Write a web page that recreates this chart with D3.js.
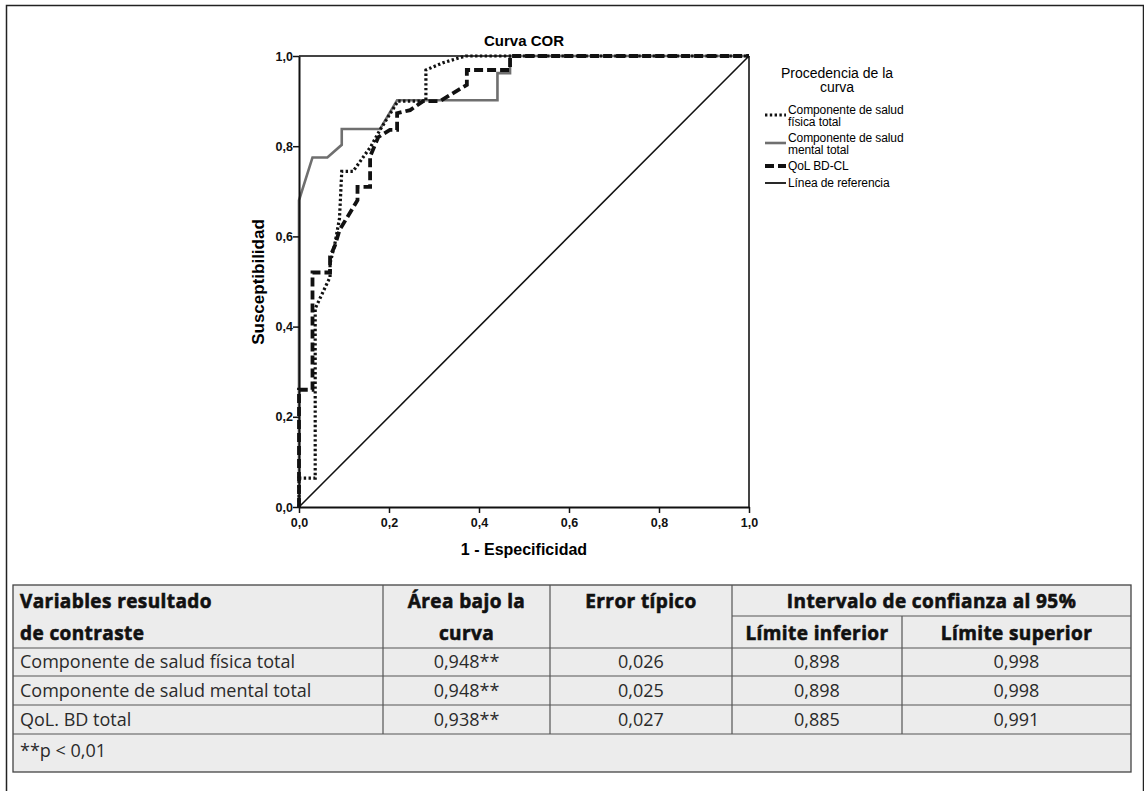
<!DOCTYPE html>
<html>
<head>
<meta charset="utf-8">
<script src="https://cdn.jsdelivr.net/npm/d3@7"></script>
<style>
  body { margin: 0; background: #fff; }
  svg { display: block; }
</style>
</head>
<body>
<div id="chart"></div>
<script>
// ROC curves, points as [1 - especificidad, susceptibilidad]
const curveFisica = [[0,0],[0,0.064],[0.036,0.064],[0.036,0.44],[0.069,0.51],[0.069,0.54],[0.08,0.585],
  [0.09,0.64],[0.095,0.744],[0.12,0.744],[0.16,0.80],[0.18,0.836],[0.22,0.90],[0.282,0.90],
  [0.282,0.969],[0.32,0.985],[0.37,1],[1,1]];
const curveMental = [[0,0],[0,0.68],[0.03,0.775],[0.063,0.775],[0.095,0.803],[0.095,0.838],[0.18,0.838],
  [0.218,0.902],[0.441,0.902],[0.441,0.962],[0.469,0.962],[0.469,1],[1,1]];
const curveQol = [[0,0],[0,0.26],[0.03,0.26],[0.03,0.52],[0.069,0.52],[0.069,0.555],[0.08,0.58],
  [0.09,0.614],[0.13,0.68],[0.13,0.71],[0.158,0.71],[0.158,0.777],[0.176,0.82],[0.202,0.836],
  [0.218,0.836],[0.218,0.873],[0.247,0.88],[0.276,0.90],[0.313,0.90],[0.373,0.936],[0.373,0.969],
  [0.469,0.969],[0.469,1],[1,1]];
const curveRef = [[0,0],[1,1]];
const ticks = [0, 0.2, 0.4, 0.6, 0.8, 1.0];

const legendItems = [
  { lines: ["Componente de salud", "física total"], key: "fisica" },
  { lines: ["Componente de salud", "mental total"], key: "mental" },
  { lines: ["QoL BD-CL"], key: "qol" },
  { lines: ["Línea de referencia"], key: "ref" }
];

// table values
const tableVars = ["Componente de salud física total", "Componente de salud mental total", "QoL. BD total"];
const tableArea = ["0,948**", "0,948**", "0,938**"];
const tableError = ["0,026", "0,025", "0,027"];
const tableLower = ["0,898", "0,898", "0,885"];
const tableUpper = ["0,998", "0,998", "0,991"];

const width = 1144, height = 791;
const svg = d3.select("#chart").append("svg")
  .attr("width", width).attr("height", height);

// outer frame
svg.append("rect")
  .attr("x", 6.5).attr("y", 5.5).attr("width", 1137).attr("height", 800)
  .attr("fill", "none").attr("stroke", "#222").attr("stroke-width", 1.5);

const x = d3.scaleLinear().domain([0, 1]).range([299, 749]);
const y = d3.scaleLinear().domain([0, 1]).range([507, 56]);

const styles = {
  fisica: { stroke: "#111", width: 3.2, dash: "2.4,2.4" },
  mental: { stroke: "#6f6f6f", width: 2.6, dash: null },
  qol: { stroke: "#111", width: 3.8, dash: "9,4" },
  ref: { stroke: "#111", width: 1.6, dash: null }
};

// plot box top/right
svg.append("line").attr("x1", x(0)).attr("x2", x(1)).attr("y1", y(1)).attr("y2", y(1))
  .attr("stroke", "#444").attr("stroke-width", 2);
svg.append("line").attr("x1", x(1)).attr("x2", x(1)).attr("y1", y(1)).attr("y2", y(0))
  .attr("stroke", "#444").attr("stroke-width", 2);

const line = d3.line().x(d => x(d[0])).y(d => y(d[1]));

const curves = [
  [curveRef, "ref"],
  [curveMental, "mental"],
  [curveFisica, "fisica"],
  [curveQol, "qol"]
];
for (let [data, key] of curves) {
  const s = styles[key];
  svg.append("path")
    .datum(data)
    .attr("fill", "none")
    .attr("stroke", s.stroke)
    .attr("stroke-width", s.width)
    .attr("stroke-dasharray", s.dash)
    .attr("d", line);
}

const fmt = d => d3.format(".1f")(d).replace(".", ",");
const arial = "'Liberation Sans', Arial, sans-serif";

// axes
const xAxis = svg.append("g")
  .attr("transform", `translate(0,${y(0)})`)
  .call(d3.axisBottom(x).tickValues(ticks).tickSize(6).tickSizeOuter(0).tickFormat(fmt));
const yAxis = svg.append("g")
  .attr("transform", `translate(${x(0)},0)`)
  .call(d3.axisLeft(y).tickValues(ticks).tickSize(6).tickSizeOuter(0).tickFormat(fmt));
for (let g of [xAxis, yAxis]) {
  g.select(".domain").attr("stroke", "#111").attr("stroke-width", 2);
  g.selectAll(".tick line").attr("stroke", "#111").attr("stroke-width", 1.5);
  g.selectAll(".tick text")
    .attr("fill", "#111")
    .style("font", `bold 12.5px ${arial}`);
}
xAxis.selectAll(".tick text").attr("dy", "0.85em");
yAxis.selectAll(".tick text").attr("x", -6);

// title and labels
svg.append("text")
  .attr("x", 524).attr("y", 46)
  .attr("text-anchor", "middle")
  .style("font", `bold 15px ${arial}`)
  .text("Curva COR");
svg.append("text")
  .attr("x", 524).attr("y", 555)
  .attr("text-anchor", "middle")
  .style("font", `bold 16px ${arial}`)
  .text("1 - Especificidad");
svg.append("text")
  .attr("transform", "translate(264,282) rotate(-90)")
  .attr("text-anchor", "middle")
  .style("font", `bold 17px ${arial}`)
  .text("Susceptibilidad");

// legend
const lg = svg.append("g").attr("class", "legend");
lg.append("text")
  .attr("x", 837).attr("y", 78)
  .attr("text-anchor", "middle")
  .style("font", `14px ${arial}`)
  .selectAll("tspan")
  .data(["Procedencia de la", "curva"])
  .join("tspan")
  .attr("x", 837)
  .attr("dy", (d, i) => i ? 14 : 0)
  .text(d => d);

let ly = 114;
for (let item of legendItems) {
  const s = styles[item.key];
  const sampleY = ly + (item.lines.length > 1 ? 1 : -4);
  lg.append("line")
    .attr("x1", 765).attr("x2", 786)
    .attr("y1", sampleY).attr("y2", sampleY)
    .attr("stroke", s.stroke)
    .attr("stroke-width", item.key === "ref" ? 1.8 : s.width)
    .attr("stroke-dasharray", s.dash);
  lg.append("text")
    .attr("x", 788).attr("y", ly)
    .style("font", `12px ${arial}`)
    .style("letter-spacing", "-0.1px")
    .selectAll("tspan")
    .data(item.lines)
    .join("tspan")
    .attr("x", 788)
    .attr("dy", (d, i) => i ? 12 : 0)
    .text(d => d);
  ly += item.lines.length > 1 ? 28 : 17;
}

// table
const colX = [13, 383, 550, 732, 902, 1131];
const rowY = [585, 616, 648, 676, 705, 734, 772];
const tg = svg.append("g").attr("class", "table");
tg.append("rect")
  .attr("x", colX[0]).attr("y", rowY[0])
  .attr("width", colX[5] - colX[0]).attr("height", rowY[6] - rowY[0])
  .attr("fill", "#ececec").attr("stroke", "#444").attr("stroke-width", 1.3);

const border = "#555";
// horizontal rules
tg.append("line").attr("x1", colX[3]).attr("x2", colX[5]).attr("y1", rowY[1]).attr("y2", rowY[1])
  .attr("stroke", border).attr("stroke-width", 1.2);
for (let r = 2; r <= 5; r++) {
  tg.append("line").attr("x1", colX[0]).attr("x2", colX[5]).attr("y1", rowY[r]).attr("y2", rowY[r])
    .attr("stroke", border).attr("stroke-width", 1.2);
}
// vertical rules
for (let c = 1; c <= 4; c++) {
  tg.append("line").attr("x1", colX[c]).attr("x2", colX[c])
    .attr("y1", c === 4 ? rowY[1] : rowY[0]).attr("y2", rowY[5])
    .attr("stroke", border).attr("stroke-width", 1.2);
}

const headFont = "bold 19px 'Open Sans', 'Noto Sans', sans-serif";
const bodyFont = "18px 'Open Sans', 'Noto Sans', sans-serif";
const mid = (a, b) => (a + b) / 2;

const headers = [
  { t: "Variables resultado", x: 20, y: 608, a: "start" },
  { t: "de contraste", x: 20, y: 640, a: "start" },
  { t: "Área bajo la", x: mid(colX[1], colX[2]), y: 608, a: "middle" },
  { t: "curva", x: mid(colX[1], colX[2]), y: 640, a: "middle" },
  { t: "Error típico", x: mid(colX[2], colX[3]), y: 608, a: "middle" },
  { t: "Intervalo de confianza al 95%", x: mid(colX[3], colX[5]), y: 608, a: "middle" },
  { t: "Límite inferior", x: mid(colX[3], colX[4]), y: 640, a: "middle" },
  { t: "Límite superior", x: mid(colX[4], colX[5]), y: 640, a: "middle" }
];
tg.selectAll("text.head")
  .data(headers)
  .join("text")
  .attr("class", "head")
  .attr("x", d => d.x).attr("y", d => d.y)
  .attr("text-anchor", d => d.a)
  .attr("fill", "#111")
  .attr("stroke", "#111")
  .attr("stroke-width", 0.6)
  .style("font", headFont)
  .style("letter-spacing", "0.4px")
  .text(d => d.t);

const columns = [tableVars, tableArea, tableError, tableLower, tableUpper];
columns.forEach((col, c) => {
  tg.selectAll(`text.c${c}`)
    .data(col)
    .join("text")
    .attr("class", `c${c}`)
    .attr("x", c === 0 ? 20 : mid(colX[c], colX[c + 1]))
    .attr("y", (d, i) => mid(rowY[i + 2], rowY[i + 3]) + 6)
    .attr("text-anchor", c === 0 ? "start" : "middle")
    .attr("fill", "#2a2a2a")
    .style("font", bodyFont)
    .text(d => d);
});

tg.append("text")
  .attr("x", 20).attr("y", 757)
  .attr("fill", "#2a2a2a")
  .style("font", bodyFont)
  .text("**p < 0,01");
</script>
</body>
</html>
